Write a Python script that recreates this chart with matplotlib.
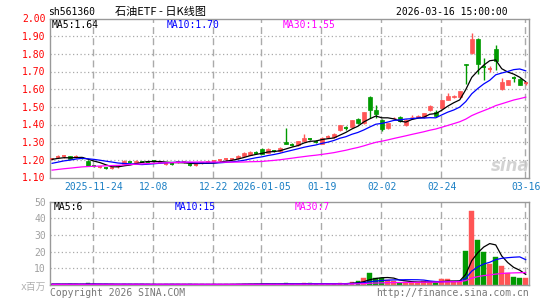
import numpy as np
import pandas as pd
import matplotlib
matplotlib.use('Agg')
import matplotlib.pyplot as plt

# ---------------- data ----------------
dates = (
    ['2025-11-13', '2025-11-14'] +
    ['2025-11-%02d' % d for d in (17, 18, 19, 20, 21, 24, 25, 26, 27, 28)] +
    ['2025-12-%02d' % d for d in (1, 2, 3, 4, 5, 8, 9, 10, 11, 12, 15, 16, 17, 18, 19,
                                  22, 23, 24, 25, 26, 29, 30, 31)] +
    ['2026-01-%02d' % d for d in (5, 6, 7, 8, 9, 12, 13, 14, 15, 16, 19, 20, 21, 22, 23,
                                  26, 27, 28, 29, 30)] +
    ['2026-02-%02d' % d for d in (2, 3, 4, 5, 6, 9, 10, 11, 12, 13, 24, 25, 26, 27)] +
    ['2026-03-%02d' % d for d in (2, 3, 4, 5, 6, 9, 10, 11, 12, 13, 16)]
)

opens = [1.200, 1.215, 1.218, 1.222, 1.215, 1.212, 1.195, 1.168, 1.160, 1.157,
         1.153, 1.160, 1.176, 1.187, 1.182, 1.192, 1.190, 1.195, 1.186, 1.176,
         1.180, 1.183, 1.186, 1.174, 1.170, 1.180, 1.185, 1.191, 1.194, 1.200,
         1.202, 1.209, 1.224, 1.228, 1.242, 1.262, 1.240, 1.254, 1.250, 1.302,
         1.289, 1.284, 1.306, 1.319, 1.304, 1.290, 1.328, 1.327, 1.368, 1.382,
         1.384, 1.432, 1.408, 1.558, 1.484, 1.428, 1.378, 1.434, 1.444, 1.395,
         1.441, 1.442, 1.440, 1.480, 1.472, 1.494, 1.540, 1.556, 1.554, 1.741,
         1.806, 1.886, 1.728, 1.710, 1.825, 1.601, 1.625, 1.668, 1.660, 1.630]
closes = [1.203, 1.218, 1.220, 1.205, 1.218, 1.209, 1.166, 1.166, 1.162, 1.155,
          1.155, 1.163, 1.195, 1.185, 1.195, 1.190, 1.188, 1.192, 1.188, 1.178,
          1.177, 1.186, 1.188, 1.171, 1.172, 1.183, 1.187, 1.194, 1.197, 1.203,
          1.205, 1.223, 1.239, 1.246, 1.240, 1.235, 1.262, 1.251, 1.268, 1.292,
          1.286, 1.305, 1.325, 1.316, 1.301, 1.326, 1.331, 1.345, 1.395, 1.379,
          1.423, 1.408, 1.468, 1.484, 1.457, 1.372, 1.408, 1.438, 1.422, 1.428,
          1.445, 1.446, 1.464, 1.507, 1.448, 1.538, 1.563, 1.560, 1.588, 1.737,
          1.886, 1.744, 1.725, 1.713, 1.759, 1.638, 1.651, 1.665, 1.625, 1.633]
highs = [1.210, 1.225, 1.226, 1.224, 1.225, 1.216, 1.197, 1.172, 1.166, 1.160,
         1.160, 1.168, 1.197, 1.190, 1.197, 1.196, 1.194, 1.198, 1.192, 1.182,
         1.183, 1.196, 1.193, 1.178, 1.177, 1.188, 1.191, 1.198, 1.201, 1.208,
         1.212, 1.226, 1.242, 1.250, 1.252, 1.268, 1.266, 1.258, 1.272, 1.380,
         1.293, 1.308, 1.345, 1.325, 1.310, 1.330, 1.338, 1.350, 1.400, 1.390,
         1.426, 1.436, 1.470, 1.560, 1.510, 1.430, 1.410, 1.445, 1.448, 1.430,
         1.452, 1.455, 1.467, 1.512, 1.480, 1.540, 1.578, 1.568, 1.590, 1.742,
         1.918, 1.890, 1.778, 1.730, 1.849, 1.666, 1.654, 1.672, 1.663, 1.640]
lows = [1.197, 1.210, 1.212, 1.203, 1.210, 1.203, 1.163, 1.158, 1.156, 1.150,
        1.147, 1.155, 1.173, 1.180, 1.180, 1.185, 1.184, 1.188, 1.180, 1.168,
        1.172, 1.180, 1.182, 1.165, 1.166, 1.176, 1.181, 1.187, 1.190, 1.196,
        1.198, 1.206, 1.221, 1.225, 1.235, 1.232, 1.238, 1.246, 1.247, 1.290,
        1.278, 1.281, 1.303, 1.310, 1.295, 1.287, 1.322, 1.323, 1.365, 1.370,
        1.381, 1.404, 1.405, 1.438, 1.438, 1.365, 1.372, 1.430, 1.412, 1.390,
        1.440, 1.440, 1.436, 1.476, 1.445, 1.490, 1.536, 1.552, 1.551, 1.632,
        1.800, 1.688, 1.651, 1.700, 1.707, 1.598, 1.622, 1.641, 1.622, 1.625]
volumes = [0.6, 0.5, 0.4, 0.7, 0.4, 0.3, 0.9, 0.5, 0.4, 0.3,
           0.3, 0.4, 0.6, 0.3, 0.4, 0.3, 0.3, 0.4, 0.3, 0.5,
           0.3, 0.4, 0.3, 0.4, 0.3, 0.3, 0.3, 0.4, 0.3, 0.4,
           0.4, 0.6, 0.7, 0.6, 0.5, 0.8, 0.7, 0.4, 0.7, 1.0,
           0.5, 0.7, 1.0, 0.9, 0.6, 0.8, 0.6, 0.7, 1.2, 0.8,
           1.8, 2.2, 4.0, 7.2, 4.2, 4.2, 2.8, 2.2, 1.3, 1.8,
           1.8, 1.8, 2.2, 1.8, 1.0, 3.4, 3.4, 2.2, 2.2, 20.5,
           44.5, 27.0, 19.5, 12.5, 16.5, 11.5, 7.2, 5.0, 4.2, 4.0]

# estimated history before the first visible day (only used to warm up the moving averages)
prior_closes = [1.10, 1.10, 1.11, 1.11, 1.10, 1.11, 1.12, 1.12, 1.11, 1.12,
                1.13, 1.12, 1.13, 1.13, 1.14, 1.13, 1.14, 1.14, 1.15, 1.14,
                1.15, 1.15, 1.16, 1.16, 1.17, 1.19, 1.20, 1.21, 1.21]
prior_volumes = [0.3, 0.4, 0.3, 0.3, 0.5, 0.3, 0.4, 0.3, 0.3, 0.4,
                 0.5, 0.3, 0.4, 0.3, 0.3, 0.4, 0.3, 0.5, 0.4, 0.3,
                 0.4, 0.6, 0.4, 0.5, 0.3, 0.4, 0.5, 0.4, 0.6]

tick_dates = ['2025-11-24', '2025-12-08', '2025-12-22', '2026-01-05',
              '2026-01-19', '2026-02-02', '2026-02-24', '2026-03-16']
tick_labels = ['2025-11-24', '12-08', '12-22', '2026-01-05',
               '01-19', '02-02', '02-24', '03-16']
price_ticks = [1.10, 1.20, 1.30, 1.40, 1.50, 1.60, 1.70, 1.80, 1.90, 2.00]
volume_ticks = [10, 20, 30, 40, 50]

symbol = 'sh561360'
title = '石油ETF - 日K线图'
timestamp = '2026-03-16 15:00:00'

# ---------------- styling ----------------
UP = '#ff5555'
DOWN = '#009a00'
MA_COLORS = {5: '#000000', 10: '#0000ff', 30: '#ff00ff'}
GRID = '#aaaaaa'
FRAME = '#999999'
DATE_C = '#1a7fc4'
MONO = 'DejaVu Sans Mono'

W, H = 545, 300
fig = plt.figure(figsize=(W / 100, H / 100), dpi=100)
fig.patch.set_facecolor('white')


def rect(l, t, r, b):
    return [l / W, 1 - b / H, (r - l) / W, (b - t) / H]


ax1 = fig.add_axes(rect(50, 18.5, 529, 177.5))
ax2 = fig.add_axes(rect(50, 201.5, 529, 285))

n = len(dates)
x = np.arange(n)
o = np.array(opens); c = np.array(closes); hi = np.array(highs); lo = np.array(lows)
v = np.array(volumes)
up = c >= o
cols = np.where(up, UP, DOWN)

full_c = pd.Series(prior_closes + closes)
full_v = pd.Series(prior_volumes + volumes)
np_ = len(prior_closes)
ma_p = {k: full_c.rolling(k).mean().values[np_:] for k in (5, 10, 30)}
ma_v = {k: full_v.rolling(k).mean().values[np_:] for k in (5, 10, 30)}

xlim = (-0.35, n - 1 + 0.55)
tick_pos = [dates.index(d) for d in tick_dates]

for ax in (ax1, ax2):
    ax.set_xlim(*xlim)
    for s in ax.spines.values():
        s.set_color(FRAME)
        s.set_linewidth(1.0)
    for tp in tick_pos:
        ax.axvline(tp - 0.2, color=GRID, lw=1.0, ls=(0, (5, 3)), zorder=0)
    ax.tick_params(length=0)

# price panel
ax1.set_ylim(1.10, 2.00)
for yv in price_ticks[1:-1]:
    ax1.axhline(yv, color=GRID, lw=0.9, ls=(0, (1, 2)), zorder=0)
bw = 0.72
ax1.vlines(x, lo, hi, colors=cols, lw=1.0, zorder=2)
body_lo = np.minimum(o, c)
body_h = np.abs(c - o)
big = body_h >= 0.004
ax1.bar(x[big], body_h[big], bottom=body_lo[big], width=bw, color=cols[big],
        edgecolor=cols[big], linewidth=0.5, zorder=3)
small = ~big
ax1.hlines(c[small], x[small] - bw / 2, x[small] + bw / 2, colors=cols[small], lw=1.3, zorder=3)
for k in (5, 10, 30):
    ax1.plot(x, ma_p[k], color=MA_COLORS[k], lw=0.9, zorder=4)

ax1.set_yticks(price_ticks)
ax1.set_yticklabels(['%.2f' % t for t in price_ticks], color='#ff0000', fontsize=7, family=MONO)
ax1.tick_params(axis='y', pad=3)
ax1.set_xticks(tick_pos)
ax1.set_xticklabels(tick_labels, color=DATE_C, fontsize=7, family=MONO)
ax1.tick_params(axis='x', pad=3.5)

# volume panel
ax2.set_ylim(0, 50)
for yv in volume_ticks[:-1]:
    ax2.axhline(yv, color=GRID, lw=0.9, ls=(0, (1, 2)), zorder=0)
ax2.bar(x, v, width=0.78, color=cols, edgecolor=cols, linewidth=0.3, zorder=2)
for k in (5, 10, 30):
    ax2.plot(x, ma_v[k], color=MA_COLORS[k], lw=0.9, zorder=4)
ax2.set_yticks(volume_ticks)
ax2.set_yticklabels([str(t) for t in volume_ticks], color='#a0a0a0', fontsize=7, family=MONO)
ax2.tick_params(axis='y', pad=3)
ax2.set_xticks([])

# ---------------- texts ----------------
def ft(px, py, s, **kw):
    fig.text(px / W, 1 - py / H, s, **kw)

ft(48, 12, symbol, fontsize=7, family=MONO, color='#000000', va='center', ha='left')
ft(115, 12, title, fontsize=8, family=['Noto Sans CJK SC', 'DejaVu Sans'], color='#000000',
   va='center', ha='left')
ft(508, 12, timestamp, fontsize=7, family=MONO, color='#000000', va='center', ha='right')

ft(52, 24.5, 'MA5:%.2f' % ma_p[5][-1], fontsize=7, family=MONO, color=MA_COLORS[5], va='center')
ft(167, 24.5, 'MA10:%.2f' % ma_p[10][-1], fontsize=7, family=MONO, color=MA_COLORS[10], va='center')
ft(283, 24.5, 'MA30:%.2f' % ma_p[30][-1], fontsize=7, family=MONO, color=MA_COLORS[30], va='center')

ft(54, 206.5, 'MA5:%.0f' % ma_v[5][-1], fontsize=7, family=MONO, color=MA_COLORS[5], va='center')
ft(175, 206.5, 'MA10:%.0f' % ma_v[10][-1], fontsize=7, family=MONO, color=MA_COLORS[10], va='center')
ft(295, 206.5, 'MA30:%.0f' % ma_v[30][-1], fontsize=7, family=MONO, color=MA_COLORS[30], va='center')

ft(46, 287, 'x百万', fontsize=7, family=['DejaVu Sans Mono', 'Noto Sans CJK SC'], color='#b0b0b0',
   va='center', ha='right')
ft(50, 293, 'Copyright 2026 SINA.COM', fontsize=7, family=MONO, color='#777777', va='center', ha='left')
ft(529, 293, 'http://finance.sina.com.cn', fontsize=7, family=MONO, color='#777777', va='center', ha='right')

# watermark
ft(510, 166, 'sina', fontsize=12, family='DejaVu Sans', style='italic', weight='bold',
   color='#c8c8c8', va='center', ha='center', alpha=0.8)

fig.savefig('out.png', dpi=100)
